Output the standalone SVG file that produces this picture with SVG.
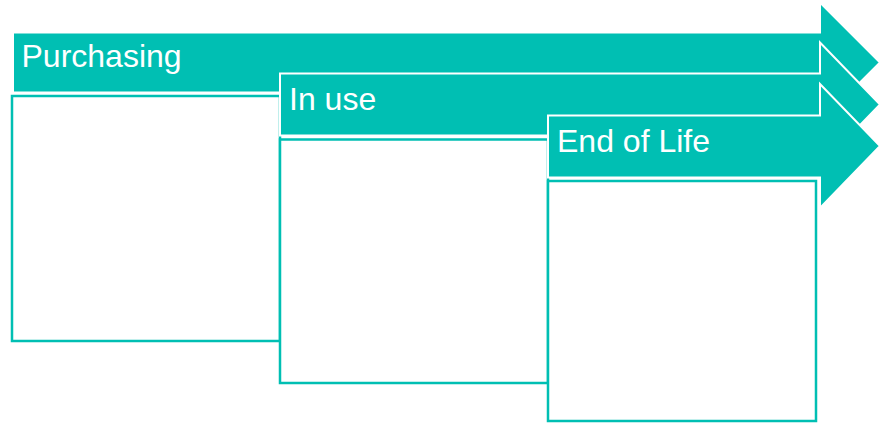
<svg xmlns="http://www.w3.org/2000/svg" width="883" height="423" viewBox="0 0 883 423">
<style>
.arrow{fill:#00BFB3;stroke:#FFFFFF;stroke-width:2}
.box{fill:#FFFFFF;stroke:#00BFB3;stroke-width:2.5}
.lbl{font-family:"Liberation Sans",Arial,sans-serif;font-size:32px;fill:#FFFFFF}
</style>
<rect width="883" height="423" fill="#FFFFFF"/>
<g id="purchasing">
<path class="arrow" d="M13,32.5 H820 V2.5 L880,62.5 L820,122.5 V92.5 H13 Z"/>
<rect class="box" x="12" y="96" width="268" height="245"/>
<text class="lbl" x="21.5" y="67">Purchasing</text>
</g>
<g id="in-use">
<path class="arrow" d="M280,73.5 H820 V42.5 L880,104.5 L820,166.5 V135.5 H280 Z"/>
<rect class="box" x="280" y="139.5" width="268" height="243.5"/>
<text class="lbl" x="289" y="110">In use</text>
</g>
<g id="end-of-life">
<path class="arrow" d="M548,115.5 H820 V84 L880,146 L820,208 V177.5 H548 Z"/>
<rect class="box" x="548" y="181" width="268" height="240"/>
<text class="lbl" x="557" y="152">End of Life</text>
</g>
<g id="connectors"></g>
</svg>
